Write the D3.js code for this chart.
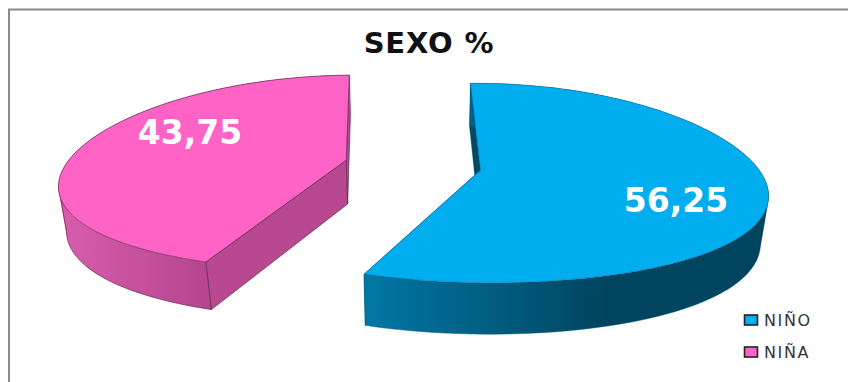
<!DOCTYPE html>
<html>
<head>
<meta charset="utf-8">
<script src="https://cdnjs.cloudflare.com/ajax/libs/d3/7.8.5/d3.min.js"></script>
<style>
  html, body { margin: 0; padding: 0; background: #fff; }
  svg { display: block; }
  text { font-family: "DejaVu Sans", sans-serif; }
</style>
</head>
<body>
<svg id="chart" width="848" height="382"></svg>
<script>
const categories = ["NIÑO", "NIÑA"];
const values = [56.25, 43.75];
const chartTitle = "SEXO %";

const topColors = ["#00AEEF", "#FF63C6"];
const edgeColors = ["#00506e", "#5e2a52"];
const rimStops = [
  [["0", "#0078a6"], ["0.6", "#00445f"], ["1", "#00445f"]],
  [["0", "#d95cae"], ["1", "#b4468c"]]
];
const cutColors = ["#004a66", "#b8488f"];
const labelSpots = [[676, 212], [190, 144]];
const legendRows = [326, 358];

const W = 848, H = 382;
const svg = d3.select("#chart");
const defs = svg.append("defs");

// Perspective view of the pie: unit-circle coordinates to the page
const view = { x0: 411, y0: 166, ry: 97, kx: 0.227, ky: 0.13, shrink: 0.022, explode: 0.24 };
// Per-slice horizontal radius, lean, nudge and wall depth of the exploded wedges
const sliceView = [
  { rx: 276, lean: -8, nudge: 4, lift: 0, depth: 47 },
  { rx: 280, lean: 3, nudge: 1, lift: -2, depth: 44 }
];

function project(U, V, z, s) {
  const w = 1 - view.kx * V + view.shrink * z;
  return [
    view.x0 + s.nudge + s.lean * V + s.rx * U / w,
    view.y0 + s.lift + view.ry * V / (1 - view.ky * V) + s.depth * z * (1 + 0.7 * V * view.ky)
  ];
}

// Outline of a quad, always wound the same way so a combined path fills as a union
function quadPath(q) {
  const ordered = d3.polygonArea(q) < 0 ? q.slice().reverse() : q;
  return d3.line()(ordered) + "Z";
}

const pie = d3.pie().sort(null).value(d => d)
  .startAngle(-1.5 * Math.PI / 180)
  .endAngle(358.5 * Math.PI / 180);
const arcs = pie(values);
const line = d3.line();

arcs.forEach((a, i) => {
  const s = sliceView[i];
  const mid = (a.startAngle + a.endAngle) / 2;
  const ox = view.explode * Math.sin(mid);
  const oy = -view.explode * Math.cos(mid);
  const rim = t => [ox + Math.sin(t), oy - Math.cos(t)];
  const steps = d3.range(0, 121).map(n => a.startAngle + (a.endAngle - a.startAngle) * n / 120);

  const topRim = steps.map(t => project(...rim(t), 0, s));
  const lowRim = steps.map(t => project(...rim(t), 1, s));
  const hubTop = project(ox, oy, 0, s);
  const hubLow = project(ox, oy, 1, s);
  const g = svg.append("g").attr("class", "slice");
  const edgeWidth = i === 0 ? 0.4 : 0.7;

  const gradId = "rim" + i;
  const grad = defs.append("linearGradient").attr("id", gradId)
    .attr("gradientUnits", "userSpaceOnUse")
    .attr("x1", i === 0 ? 364 : 60).attr("x2", i === 0 ? 770 : 212)
    .attr("y1", 0).attr("y2", 0);
  rimStops[i].forEach(st => grad.append("stop").attr("offset", st[0]).attr("stop-color", st[1]));

  // radial cut walls
  [0, 120].forEach(k => {
    g.append("path")
      .attr("d", line([hubTop, topRim[k], lowRim[k], hubLow]) + "Z")
      .attr("fill", cutColors[i])
      .attr("stroke", edgeColors[i])
      .attr("stroke-width", edgeWidth)
      .attr("stroke-linejoin", "round");
  });

  // outer wall: one path of quads, so the silhouette follows the tangent between the rims
  g.append("path")
    .attr("d", d3.range(120).map(k => quadPath([topRim[k], topRim[k + 1], lowRim[k + 1], lowRim[k]])).join(""))
    .attr("fill", `url(#${gradId})`)
    .attr("fill-rule", "nonzero");

  // visible run of the lower rim, from the front cut to the silhouette tangent, then up to the top rim
  const turn = i === 0 ? d3.greatestIndex(lowRim, p => p[0]) : d3.leastIndex(lowRim, p => p[0]);
  const run = i === 0 ? d3.range(turn, 121) : d3.range(0, turn + 1);
  const visible = run.map(k => lowRim[k]);
  const outline = i === 0 ? [topRim[turn]].concat(visible) : visible.concat([topRim[turn]]);
  g.append("path")
    .attr("d", line(outline))
    .attr("fill", "none")
    .attr("stroke", edgeColors[i])
    .attr("stroke-width", edgeWidth);

  // front edge where the outer wall meets the cut wall
  const frontIdx = i === 0 ? 120 : 0;
  g.append("path")
    .attr("d", line([topRim[frontIdx], lowRim[frontIdx]]))
    .attr("fill", "none")
    .attr("stroke", edgeColors[i])
    .attr("stroke-width", edgeWidth);

  // top face
  g.append("path")
    .attr("d", line([hubTop].concat(topRim)) + "Z")
    .attr("fill", topColors[i])
    .attr("stroke", edgeColors[i])
    .attr("stroke-width", edgeWidth)
    .attr("stroke-linejoin", "round");
});

// value labels
const fmt = d3.formatLocale({ decimal: ",", thousands: ".", grouping: [3], currency: ["", ""] }).format(".2f");
svg.append("g").selectAll("text").data(values).join("text")
  .attr("x", (d, i) => labelSpots[i][0])
  .attr("y", (d, i) => labelSpots[i][1])
  .attr("text-anchor", "middle")
  .attr("font-size", 33)
  .attr("font-weight", 700)
  .attr("fill", "#fff")
  .text(d => fmt(d));

// chart frame: top and left rules
svg.append("path")
  .attr("d", `M9 ${H}V9.5H${W}`)
  .attr("fill", "none")
  .attr("stroke", "#8a8a8a")
  .attr("stroke-width", 2);

// title
svg.append("text")
  .attr("x", 429).attr("y", 53)
  .attr("text-anchor", "middle")
  .attr("font-size", 29)
  .attr("letter-spacing", 0.8)
  .attr("font-weight", 700)
  .attr("fill", "#111")
  .text(chartTitle);

// legend
const legend = svg.append("g").selectAll("g").data(categories).join("g");
legend.append("rect")
  .attr("x", 744.5)
  .attr("y", (d, i) => legendRows[i] - 11)
  .attr("width", 13).attr("height", 10)
  .attr("fill", (d, i) => topColors[i])
  .attr("stroke", "#222")
  .attr("stroke-width", 1.6);
legend.append("text")
  .attr("x", 764)
  .attr("y", (d, i) => legendRows[i])
  .attr("font-size", 16)
  .attr("fill", "#333")
  .attr("letter-spacing", 1.6)
  .text(d => d);
</script>
</body>
</html>
